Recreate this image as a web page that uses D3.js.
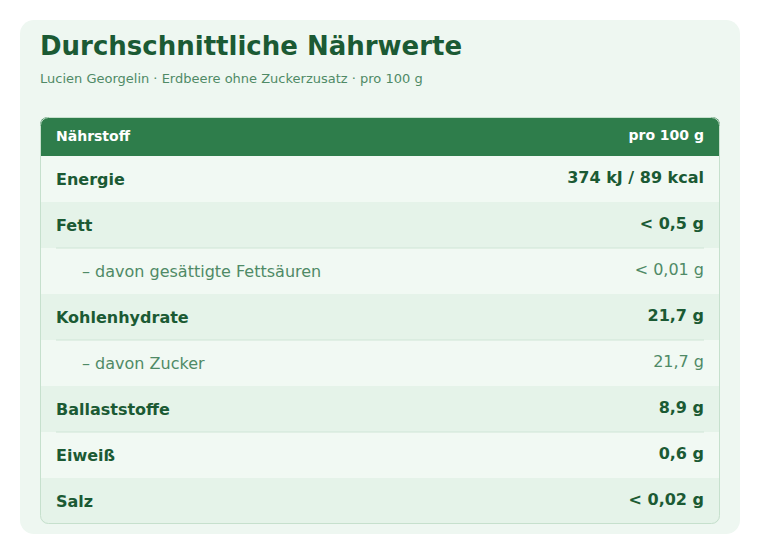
<!DOCTYPE html>
<html><head><meta charset="utf-8">
<script src="https://cdn.jsdelivr.net/npm/d3@7"></script>
<style>body{margin:0;background:#fff;font-family:"DejaVu Sans",sans-serif}</style>
</head><body><svg id="c" width="760" height="554"></svg>
<script>
const nutrients = ["Energie","Fett","– davon gesättigte Fettsäuren","Kohlenhydrate","– davon Zucker","Ballaststoffe","Eiweiß","Salz"];
const values = ["374 kJ / 89 kcal","< 0,5 g","< 0,01 g","21,7 g","21,7 g","8,9 g","0,6 g","< 0,02 g"];
const isSub = [false,false,true,false,true,false,false,false];
const headers = ["Nährstoff","pro 100 g"];

const svg = d3.select("#c");
svg.append("rect").attr("x",20).attr("y",20).attr("width",720).attr("height",514).attr("rx",14).attr("fill","#eef7f1");
svg.append("text").attr("x",40).attr("y",55).attr("font-size",26).attr("font-weight","bold").attr("fill","#1b5a34").text("Durchschnittliche Nährwerte");
svg.append("text").attr("x",40).attr("y",83).attr("font-size",13).attr("fill","#4f8a66").text("Lucien Georgelin · Erdbeere ohne Zuckerzusatz  ·  pro 100 g");

const x0=40,x1=720,tableTop=156,rowH=46;
const y = d3.scaleBand().domain(d3.range(nutrients.length)).range([tableTop, tableTop+rowH*nutrients.length]);
const clip = svg.append("defs").append("clipPath").attr("id","cl");
clip.append("rect").attr("x",x0).attr("y",117).attr("width",x1-x0).attr("height",y.range()[1]-117).attr("rx",8);
const g = svg.append("g").attr("clip-path","url(#cl)");
g.append("rect").attr("x",x0).attr("y",117).attr("width",x1-x0).attr("height",39).attr("fill","#2e7d4b");
g.selectAll("rect.row").data(nutrients).join("rect").attr("class","row")
 .attr("x",x0).attr("y",(d,i)=>y(i)).attr("width",x1-x0).attr("height",y.bandwidth())
 .attr("fill",(d,i)=>i%2?"#e5f3e9":"#f1f9f3");
g.selectAll("line.sep").data(nutrients.map((d,i)=>i).filter(i=>i%2==1 && i<nutrients.length-1)).join("line")
 .attr("x1",56).attr("x2",704).attr("y1",i=>y(i)+y.bandwidth()).attr("y2",i=>y(i)+y.bandwidth())
 .attr("stroke","#cfe5d6");
svg.append("rect").attr("x",x0+0.5).attr("y",117.5).attr("width",x1-x0-1).attr("height",y.range()[1]-118).attr("rx",8)
 .attr("fill","none").attr("stroke","#c6e0cd");
svg.append("text").attr("x",56).attr("y",141).attr("font-size",14).attr("font-weight","bold").attr("fill","#fff").text(headers[0]);
svg.append("text").attr("x",704).attr("y",140).attr("text-anchor","end").attr("font-size",14).attr("font-weight","bold").attr("fill","#fff").text(headers[1]);
svg.selectAll("text.n").data(nutrients).join("text").attr("class","n")
 .attr("x",(d,i)=>isSub[i]?82:56).attr("y",(d,i)=>y(i)+y.bandwidth()/2+6)
 .attr("font-size",16).attr("font-weight",(d,i)=>isSub[i]?"normal":"bold")
 .attr("fill",(d,i)=>isSub[i]?"#4f8a66":"#1b5a34").text(d=>d);
svg.selectAll("text.v").data(values).join("text").attr("class","v")
 .attr("x",704).attr("text-anchor","end").attr("y",(d,i)=>y(i)+y.bandwidth()/2+4)
 .attr("font-size",16).attr("font-weight",(d,i)=>isSub[i]?"normal":"bold")
 .attr("fill",(d,i)=>isSub[i]?"#4f8a66":"#1b5a34").text(d=>d);
</script></body></html>
